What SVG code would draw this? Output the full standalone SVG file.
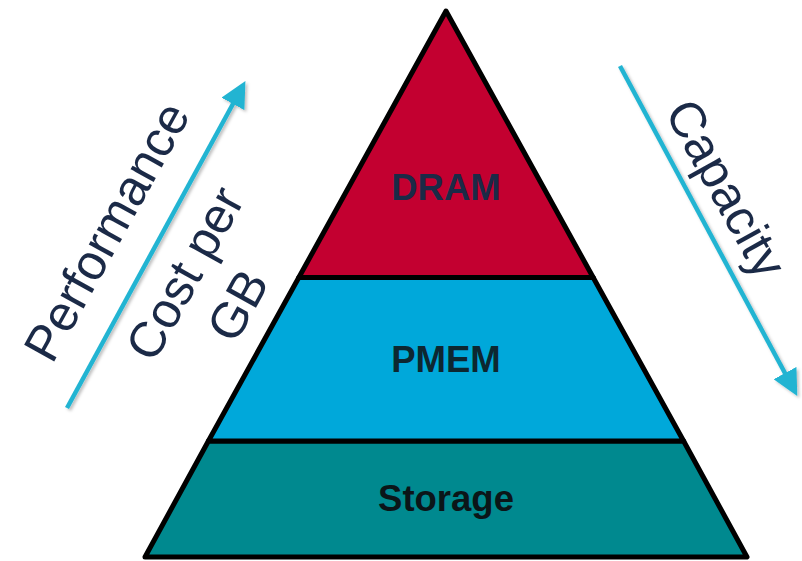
<svg xmlns="http://www.w3.org/2000/svg" width="802" height="561" viewBox="0 0 802 561">
  <style>
    .layer { stroke: #000; stroke-width: 5; stroke-linejoin: round; }
    .lbl { font-family: "Liberation Sans", Arial, sans-serif; font-weight: bold; font-size: 36.5px; text-anchor: middle; }
    .side { font-family: "Liberation Sans", Arial, sans-serif; font-size: 50px; fill: #1B2A47; text-anchor: middle; }
    .arrow { stroke: #22B4D2; stroke-width: 4.5; fill: none; }
  </style>
  <defs>
    <marker id="head" markerUnits="userSpaceOnUse" markerWidth="26" markerHeight="26" viewBox="0 0 24 24" refX="2" refY="12" orient="auto">
      <path d="M0,0 L24,12 L0,24 Z" fill="#22B4D2"/>
    </marker>
    <filter id="sh" x="-20%" y="-20%" width="140%" height="140%">
      <feDropShadow dx="2" dy="2" stdDeviation="1.5" flood-color="#000" flood-opacity="0.25"/>
    </filter>
  </defs>

  <g id="storage">
    <polygon class="layer" points="208.4,441 683.6,441 747,557 145,557" fill="#00898F"/>
    <text class="lbl" x="446" y="511" fill="#0B1518">Storage</text>
  </g>
  <g id="pmem">
    <polygon class="layer" points="298.8,277.5 593.2,277.5 683.6,441 208.4,441" fill="#00A8DA"/>
    <text class="lbl" x="446" y="372" fill="#0D2730">PMEM</text>
  </g>
  <g id="dram">
    <polygon class="layer" points="446,11 593.2,277.5 298.8,277.5" fill="#C30030"/>
    <text class="lbl" x="446" y="200" fill="#1B2A47">DRAM</text>
  </g>

  <g id="connectors" filter="url(#sh)">
    <line class="arrow" x1="67" y1="408" x2="234" y2="102" marker-end="url(#head)"/>
    <line class="arrow" x1="620" y1="66" x2="786" y2="375" marker-end="url(#head)"/>
  </g>

  <g id="left-labels">
    <text class="side" transform="translate(106,231) rotate(-61)" y="18">Performance</text>
    <text class="side" transform="translate(184,273) rotate(-61)" y="18">Cost per</text>
    <text class="side" transform="translate(237,305) rotate(-61)" y="18">GB</text>
  </g>
  <g id="right-labels">
    <text class="side" transform="translate(727,188) rotate(61)" y="18">Capacity</text>
  </g>
</svg>
